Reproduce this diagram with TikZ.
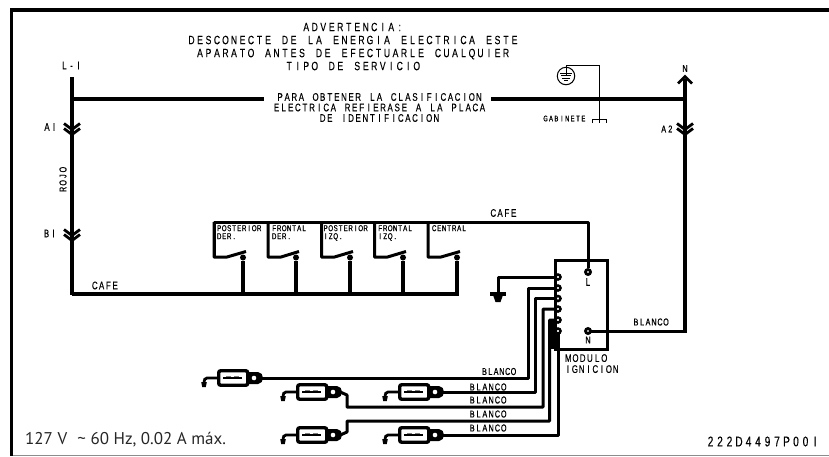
\documentclass[tikz,border=0pt]{standalone}
\usepackage{fontspec}
\setmainfont{Liberation Sans}
\newfontfamily\cadr{Liberation Sans}[FakeStretch=0.72,FakeBold=0.25]
\newfontfamily\cadb{Liberation Sans}[FakeStretch=0.72,FakeBold=0.8]
\newfontfamily\notefont{PT Sans}
\makeatletter
\newcommand\cad[2]{\def\cadw{#1}\cad@words #2 \@nil}
\def\cad@words#1 #2\@nil{\cad@word{#1}\ifx\relax#2\relax\else\hspace*{\cadw}\cad@words#2\@nil\fi}
\def\cad@word#1{\@tfor\cad@c:=#1\do{\makebox[\cadw]{\cad@c}}}
\makeatother
\tikzset{
  x=1pt,y=-1pt,
  frame/.style={line width=3.6pt,draw=black},
  heavy/.style={line width=4pt,draw=black},
  wire/.style={line width=3pt,draw=black,line join=round},
  thinwire/.style={line width=.9pt,draw=black},
  chev/.style={line width=2.8pt,draw=black,line join=miter},
  warnt/.style={inner sep=0pt,font=\cadr\fontsize{12}{13}\selectfont,align=center},
  notet/.style={inner sep=0pt,font=\cadr\fontsize{11}{10.5}\selectfont,align=center},
  lab/.style={inner sep=0pt,font=\cadr\fontsize{11}{11}\selectfont,align=center},
  boldlab/.style={inner sep=0pt,font=\cadb\fontsize{10}{10}\selectfont,align=center},
  small/.style={inner sep=0pt,font=\cadb\fontsize{8.5}{8}\selectfont,align=left,anchor=north west},
  term/.style={circle,draw=black,line width=2.5pt,fill=white,inner sep=0pt,minimum size=5pt},
  bigdot/.style={circle,draw=black,line width=2.8pt,fill=white,inner sep=0pt,minimum size=5pt},
  solder/.style={circle,fill=black,inner sep=0pt,minimum size=6pt},
  conn/.style={draw=black,line width=3.4pt,rounded corners=2pt,fill=white,minimum width=29pt,minimum height=14.5pt,inner sep=0pt},
}
\newcommand{\chevs}[2]{%
  \draw[chev] (#1-8,#2-6) -- (#1,#2) -- (#1+8,#2-6);
  \draw[chev] (#1-8,#2-1) -- (#1,#2+5) -- (#1+8,#2-1);}
\newcommand{\plug}[3]{% name, x of box left, y
  \node[conn,anchor=west] (#1) at (#2,#3) {};
  \draw[line width=.5pt,gray] (#2+9,#3-2) -- (#2+14,#3-2) (#2+17,#3-2) -- (#2+22,#3-2);
  \draw[line width=1.3pt] (#2+6,#3) -- (#2+25,#3);
  \coordinate (#1t) at (#2-13,#3+4);
  \draw[line width=2.8pt] (#1.west) -- (#2-10,#3) to[out=180,in=90] (#1t);
  \fill (#1t) ++(-2.8,0) -- ++(5.6,0) -- ++(-1,5) -- ++(-3.6,0) -- cycle;
  \fill (#2+30,#3-6) -- (#2+41,#3-6) to[out=0,in=90] (#2+46,#3) to[out=-90,in=0] (#2+41,#3+6) -- (#2+30,#3+6) -- cycle;
  \node[circle,fill=white,inner sep=0pt,minimum size=4.6pt] (#1e) at (#2+37,#3) {};
}
\begin{document}
\begin{tikzpicture}
\useasboundingbox (0,0) rectangle (829,456);
\draw[frame] (829,10) -- (11.5,10) -- (11.5,456);
\draw[line width=1pt,black!45] (13,455.3) -- (829,455.3);

\node[warnt] (warn) at (353,46.5) {\cad{8.5pt}{ADVERTENCIA:}\\\cad{8.5pt}{DESCONECTE DE LA ENERGIA ELECTRICA ESTE}\\\cad{8.5pt}{APARATO ANTES DE EFECTUARLE CUALQUIER}\\\cad{8.5pt}{TIPO DE SERVICIO}};
\node[notet] (note) at (379.5,107.5) {\cad{7.1pt}{PARA OBTENER LA CLASIFICACION}\\\cad{7.1pt}{ELECTRICA REFIERASE A LA PLACA}\\\cad{7.1pt}{DE IDENTIFICACION}};

\node[lab] (l1) at (71.5,65.5) {\cad{7pt}{L-I}};
\coordinate (lt) at (71.5,77);
\coordinate (lb) at (71.5,295);
\draw[heavy] (lt) -- (lb);
\draw[heavy] (71.5,99) -- (264,99);
\coordinate (na) at (685,79);
\coordinate (nb) at (685,332.5);
\draw[heavy] (491,99) -- (685,99);
\draw[heavy] (na) -- (nb);
\draw[chev] (678,83.5) -- (685,76.5) -- (692,83.5);
\node[boldlab] (nl) at (685,68.5) {N};
\chevs{72}{129.5}
\chevs{72}{235.5}
\chevs{685}{129.5}
\node[lab] (a1) at (50.5,127) {\cad{7pt}{AI}};
\node[lab] (b1) at (50,233.5) {\cad{7pt}{BI}};
\node[boldlab] (a2) at (667,129) {\cad{6.6pt}{A2}};
\node[boldlab,rotate=90] (rojo) at (63,179.5) {\cad{6.6pt}{ROJO}};
\node[lab] (cafe1) at (105,285.5) {\cad{6.8pt}{CAFE}};
\node[lab] (cafe2) at (503.5,213) {\cad{6.8pt}{CAFE}};

% ground symbol cabinet
\node[circle,draw=black,line width=1pt,inner sep=0pt,minimum size=17.5pt,fill=white] (gnd) at (566,76) {};
\coordinate (gt) at (566,65.5);
\coordinate (gc) at (599.5,65.5);
\coordinate (gb) at (599.5,119.5);
\draw[thinwire] (gnd.center) -- (gt) -- (gc) -- (gb);
\draw[line width=1pt] (560,73) -- (572,73) (561,75.5) -- (571,75.5) (562,78) -- (570,78) (564,80.5) -- (568,80.5);
\draw[thinwire] (592.7,123) -- (592.7,119.5) -- (606.7,119.5) -- (606.7,123) (599.5,119.5) -- (599.5,123);
\node[inner sep=0pt,font=\cadb\fontsize{8}{8}\selectfont] (gab) at (564.5,118.5) {\cad{5.4pt}{GABINETE}};

% switches
\draw[wire] (214,258) -- (214,222) -- (588.5,222) -- (588.5,268);
\draw[heavy] (71.5,294) -- (458.5,294);
\foreach \n/\xx/\yy in {a/214/243,b/268/296,c/321.5/350,d/374.5/403,e/428/457}{
  \draw[wire] (\xx,222) -- (\xx,257) -- (\xx+13,257) -- (\yy+3,251.5);
  \node[solder] (d\n) at (\yy,257.5) {};
  \draw[line width=3.3pt] (d\n) -- (\yy,294);
}
\node[small] (p1) at (216.5,225) {\cad{5pt}{POSTERIOR}\\\cad{5pt}{DER.}};
\node[small] (p2) at (271.5,225) {\cad{5pt}{FRONTAL}\\\cad{5pt}{DER.}};
\node[small] (p3) at (323,225) {\cad{5pt}{POSTERIOR}\\\cad{5pt}{IZQ.}};
\node[small] (p4) at (377.5,225) {\cad{5pt}{FRONTAL}\\\cad{5pt}{IZQ.}};
\node[small] (p5) at (431.5,225) {\cad{5pt}{CENTRAL}};

% harness (under module frame)
\draw[wire] (558,277) -- (498,277) -- (498,294);
\draw[line width=3.6pt] (490,294) -- (505.5,294);
\fill (493,295) -- (503,295) -- (500.5,302) -- (495.5,302) -- cycle;
\draw[wire] (558,288) -- (528,288) -- (528,378) -- (255,378);
\draw[wire] (558,298.5) -- (535,298.5) -- (535,392) -- (430,392);
\draw[wire] (558,309) -- (543,309) -- (543,407) -- (347,407) -- (347,395) -- (338,391);
\draw[wire] (558,320) -- (549.5,320) -- (549.5,421) -- (347,421) -- (347,432) -- (338,436);
\draw[wire] (558,331) -- (558,435) -- (430,435);

% module
\node[draw=black,line width=3pt,minimum width=52.5pt,minimum height=89pt,inner sep=0pt,anchor=north west,fill=none] (mod) at (553.5,259) {};
\fill (548,320) rectangle (555,349);
\node[inner sep=0pt,font=\cadr\fontsize{11}{11}\selectfont,align=left,anchor=north west] (modt) at (564.5,354) {\cad{7.2pt}{MODULO}\\\cad{6.8pt}{IGNICION}};
\node[lab] (ll) at (588,282) {L};
\node[boldlab] (nn) at (588,340) {N};
\draw[wire] (nb) -- (685,331) -- (588,331);
\node[boldlab] (bl) at (651,322) {\cad{6pt}{BLANCO}};
\node[bigdot] (tl) at (588,272) {};
\node[bigdot] (tn) at (588,331) {};
\foreach \t/\yy in {a/277,b/288,c/298.5,d/309,e/320,f/331}{
  \node[term] (t\t) at (558,\yy) {};
}

\plug{pa}{217}{378}
\plug{pb}{296}{392}
\plug{pc}{296}{435}
\plug{pd}{398}{392}
\plug{pe}{398}{435}

\node[boldlab] (b1t) at (499,371.5) {\cad{5.8pt}{BLANCO}};
\node[boldlab] (b2t) at (488,387) {\cad{6.3pt}{BLANCO}};
\node[boldlab] (b3t) at (488,400) {\cad{6.3pt}{BLANCO}};
\node[boldlab] (b4t) at (488,414) {\cad{6.3pt}{BLANCO}};
\node[boldlab] (b5t) at (488,428) {\cad{6.3pt}{BLANCO}};

\node[inner sep=0pt,anchor=base west,font=\notefont\fontsize{17}{18}\selectfont,text=black!85] (foot) at (25,444.5) {127 V\,\, \textasciitilde\ 60 Hz, 0.02 A máx.};
\node[inner sep=0pt,font=\cadr\fontsize{14}{14}\selectfont,anchor=east] (code) at (820,441.5) {\cad{9.5pt}{222D4497P00I}};
\end{tikzpicture}
\end{document}
